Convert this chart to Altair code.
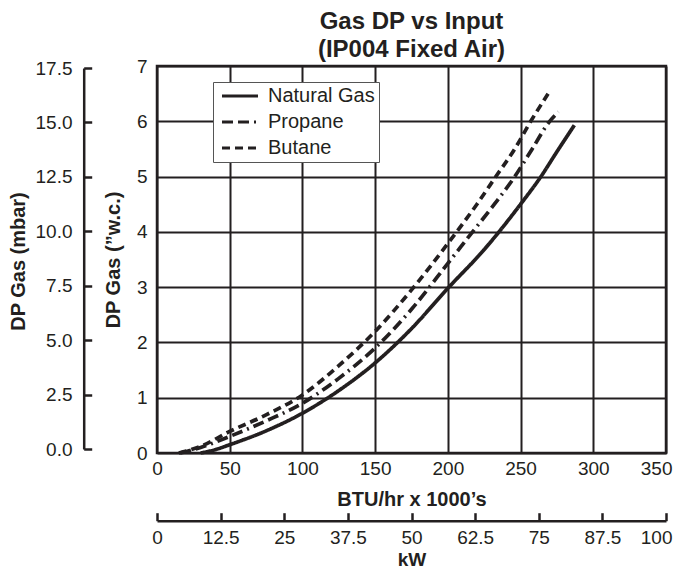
import altair as alt
import pandas as pd

# ---- data ----
series = ["Natural Gas", "Propane", "Butane"]

btu_ng = [30, 40, 50, 75, 100, 125, 150, 175, 200, 225, 250, 264, 275, 287]
inwc_ng = [0, 0.06, 0.15, 0.4, 0.72, 1.13, 1.63, 2.25, 2.98, 3.68, 4.5, 5.0, 5.45, 5.93]

btu_pr = [16, 30, 50, 75, 100, 125, 150, 175, 200, 217, 232, 246, 258, 270, 276]
inwc_pr = [0, 0.1, 0.3, 0.58, 0.9, 1.35, 1.9, 2.6, 3.43, 4.0, 4.5, 5.0, 5.5, 6.0, 6.17]

btu_bu = [15, 30, 50, 75, 100, 125, 150, 175, 200, 220, 233, 246, 257, 269]
inwc_bu = [0, 0.12, 0.39, 0.69, 1.05, 1.58, 2.2, 2.95, 3.79, 4.5, 5.0, 5.5, 6.0, 6.5]

btu_ticks = [0, 50, 100, 150, 200, 250, 300, 350]
inwc_ticks = [0, 1, 2, 3, 4, 5, 6, 7]
kw_ticks = [0, 12.5, 25, 37.5, 50, 62.5, 75, 87.5, 100]
mbar_ticks = [0, 2.5, 5, 7.5, 10, 12.5, 15, 17.5]

kw_ends = [0, 100]
mbar_ends = [0, 17.5]

rows = []
for name, xs, ys in [("Natural Gas", btu_ng, inwc_ng), ("Propane", btu_pr, inwc_pr), ("Butane", btu_bu, inwc_bu)]:
    for x, y in zip(xs, ys):
        rows.append({"gas": name, "btu": x, "inwc": y})
df = pd.DataFrame(rows)
dummy = pd.DataFrame({"kw": kw_ends, "mbar": mbar_ends})

INK = "#231f20"
FONT = "Liberation Sans"

lines = alt.Chart(df).mark_line(strokeWidth=3.7, color=INK, interpolate="monotone").encode(
    x=alt.X("btu:Q", scale=alt.Scale(domain=[0, 350], nice=False),
            axis=alt.Axis(orient="bottom", values=btu_ticks, format="d", grid=True, ticks=False, tickSize=0,
                          domain=False, labelPadding=6, labelFlush=False,
                          labelAlign={"condition": {"test": "datum.value == 350", "value": "right"}, "value": "center"},
                          labelOffset={"condition": {"test": "datum.value == 350", "value": 6}, "value": 0},
                          title="BTU/hr x 1000’s", titleY=46, titleBaseline="middle")),
    y=alt.Y("inwc:Q", scale=alt.Scale(domain=[0, 7], nice=False),
            axis=alt.Axis(orient="left", values=inwc_ticks, format="d", grid=True, ticks=False, tickSize=0,
                          domain=False, labelPadding=10,
                          title="DP Gas (”w.c.)", titleX=-44, titleY=193.5, titleAngle=270,
                          titleBaseline="middle", titleAlign="center")),
    strokeDash=alt.StrokeDash("gas:N",
                              scale=alt.Scale(domain=series, range=[[1, 0], [11, 5, 11, 5, 2, 5], [8, 5]]),
                              legend=alt.Legend(title=None, orient="none", legendX=56, legendY=16,
                                                direction="vertical", symbolType="M-3,0H3", symbolSize=144,
                                                symbolStrokeWidth=3, symbolStrokeColor=INK,
                                                labelFontSize=20, labelFont=FONT, labelColor=INK,
                                                labelExpr="datum.label + '\u00a0\u00a0'",
                                                padding=4, rowPadding=6, symbolOffset=13, labelOffset=18,
                                                fillColor="white", strokeColor="#555555")),
)

sec = alt.Chart(dummy).mark_point(opacity=0).encode(
    x=alt.X("kw:Q", scale=alt.Scale(domain=[0, 100], nice=False),
            axis=alt.Axis(orient="top", offset=-454.7, values=kw_ticks, labelExpr="'' + datum.value",
                          grid=False, domain=True, domainWidth=2.5, domainColor=INK, ticks=True, tickSize=8,
                          tickWidth=2.5, tickColor=INK, labelBaseline="middle", labelPadding=-24.5,
                          labelFlush=False,
                          labelAlign={"condition": {"test": "datum.value == 100", "value": "right"}, "value": "center"},
                          labelOffset={"condition": {"test": "datum.value == 100", "value": 6}, "value": 0},
                          title="kW", titleY=38.5, titleFontSize=19, titleBaseline="middle")),
    y=alt.Y("mbar:Q", scale=alt.Scale(domain=[0, 17.5], range=[383, 2], nice=False),
            axis=alt.Axis(orient="right", offset=-582.3, values=mbar_ticks, format=".1f", grid=False,
                          domain=True, domainWidth=2.5, domainColor=INK, ticks=True, tickSize=8,
                          tickWidth=2.5, tickColor=INK, labelAlign="right", labelPadding=-19.7,
                          title="DP Gas (mbar)", titleX=-65.5, titleY=195, titleAngle=270,
                          titleBaseline="middle", titleAlign="center")),
)

chart = alt.layer(lines, sec).resolve_scale(x="independent", y="independent").properties(
    width=509, height=387,
    title=alt.TitleParams(text=["Gas DP vs Input", "(IP004 Fixed Air)"], lineHeight=28, offset=4, dy=9,
                          frame="group", anchor="middle"),
    autosize=alt.AutoSizeParams(type="none"),
    padding={"left": 149, "top": 58, "right": 7, "bottom": 116},
).configure_view(
    stroke=INK, strokeWidth=2.5
).configure_axis(
    labelFont=FONT, titleFont=FONT, labelColor=INK, titleColor=INK, labelFontSize=19,
    titleFontSize=20, titleFontWeight="bold", gridColor=INK, gridWidth=2, gridOpacity=1
).configure_title(
    font=FONT, fontSize=24, fontWeight="bold", color=INK
)

chart.save("out.html", embed_options={"renderer": "svg", "actions": False})
